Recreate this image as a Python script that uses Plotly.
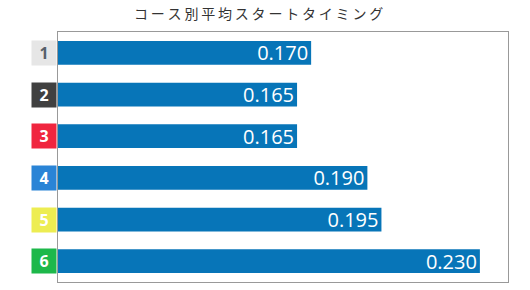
import plotly.graph_objects as go

courses = ["1", "2", "3", "4", "5", "6"]
avg_st = [0.170, 0.165, 0.165, 0.190, 0.195, 0.230]
box_colors = ["#e6e6e6", "#404040", "#f0263f", "#2a84d6", "#eded52", "#1db84a"]
box_text_colors = ["#56606a", "#ffffff", "#ffffff", "#ffffff", "#ffffff", "#ffffff"]
title_text = "コース別平均スタートタイミング"

fig = go.Figure()
fig.add_trace(go.Bar(
    x=avg_st, y=courses, orientation="h",
    marker=dict(color="#0775b8", line=dict(width=0)),
    width=0.57,
    texttemplate="%{x:.3f}", textposition="inside", insidetextanchor="end",
    constraintext="none",
    textfont=dict(color="#ffffff", size=20, family="Open Sans"),
    hoverinfo="skip",
))

for i, (c, bc, tc) in enumerate(zip(courses, box_colors, box_text_colors)):
    fig.add_annotation(
        x=-0.032, xref="paper", y=i, yref="y", xanchor="center", yanchor="middle",
        text="<b>" + c + "</b>", showarrow=False,
        bgcolor=bc, width=24, height=24, borderpad=0,
        font=dict(color=tc, size=16, family="Open Sans"),
    )

spaced_title = "\u2009".join(title_text)
fig.add_annotation(
    x=(258 - 58) / 450, xref="paper", y=(290 - 13 - 8) / 250, yref="paper",
    xanchor="center", yanchor="middle", showarrow=False,
    text=spaced_title,
    font=dict(color="#333333", size=14, family="Noto Sans CJK JP"),
)

fig.update_layout(
    width=530, height=290,
    margin=dict(l=58, r=22, t=32, b=8),
    paper_bgcolor="#ffffff", plot_bgcolor="#ffffff",
    showlegend=False,
    xaxis=dict(range=[0.08, 0.24], showgrid=False, zeroline=False, showticklabels=False,
               ticks="", showline=True, mirror=True, linecolor="#999999", linewidth=1),
    yaxis=dict(autorange="reversed", showgrid=False, zeroline=False, showticklabels=False,
               ticks="", showline=True, mirror=True, linecolor="#999999", linewidth=1),
)

fig.write_html("out.html")
